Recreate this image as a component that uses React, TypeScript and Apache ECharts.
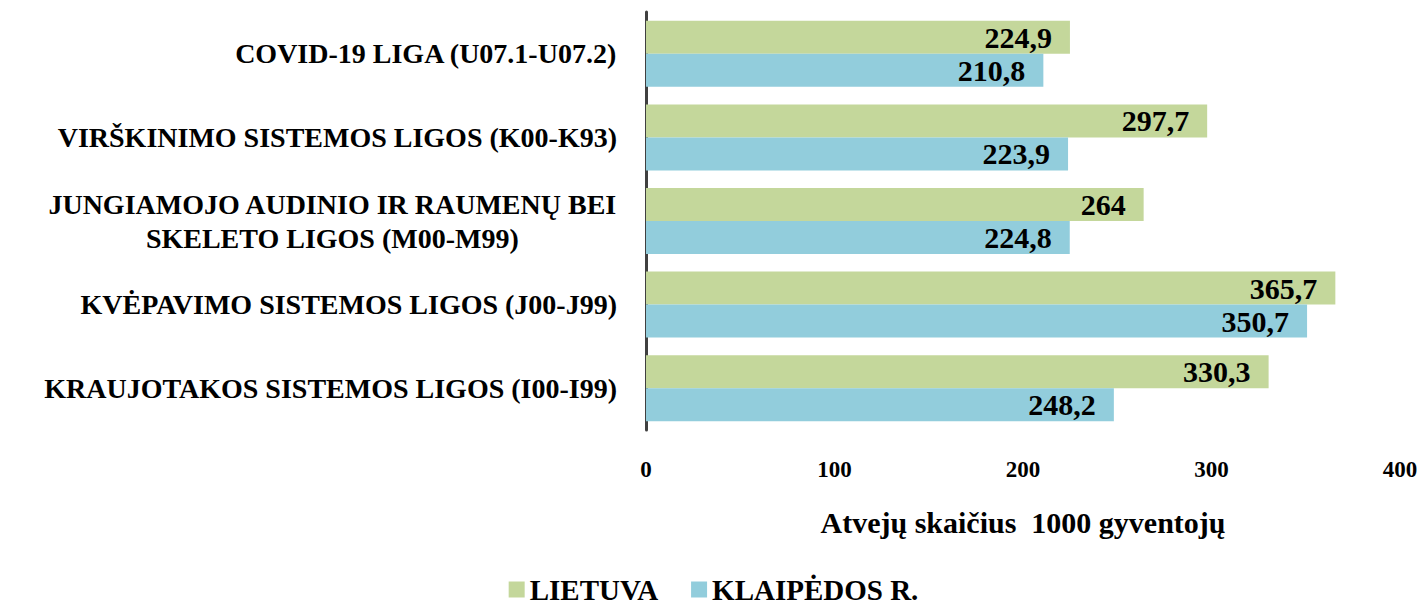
import React, { useEffect, useRef } from "react";
import * as echarts from "echarts";

const categories = [
  "COVID-19 LIGA (U07.1-U07.2)",
  "VIRŠKINIMO SISTEMOS LIGOS (K00-K93)",
  "JUNGIAMOJO AUDINIO IR RAUMENŲ BEI\nSKELETO LIGOS (M00-M99)",
  "KVĖPAVIMO SISTEMOS LIGOS (J00-J99)",
  "KRAUJOTAKOS SISTEMOS LIGOS (I00-I99)",
];
const lietuva = [224.9, 297.7, 264, 365.7, 330.3];
const klaipeda = [210.8, 223.9, 224.8, 350.7, 248.2];
const seriesNames = ["LIETUVA", "KLAIPĖDOS R."];
const axisName = "Atvejų skaičius  1000 gyventojų";

const FONT = "'Liberation Serif', 'Times New Roman', serif";

export default function App() {
  const ref = useRef<HTMLDivElement>(null);
  useEffect(() => {
    if (!ref.current) return;
    const chart = echarts.init(ref.current, null, { renderer: "svg" });
    const labelOpt = {
      show: true,
      position: "insideRight",
      distance: 18,
      color: "#000",
      fontFamily: FONT,
      fontWeight: "bold",
      fontSize: 30,
      formatter: (p: any) => String(p.value).replace(".", ","),
    };
    chart.setOption({
      animation: false,
      backgroundColor: "#fff",
      textStyle: { fontFamily: FONT },
      grid: { left: 646, right: 27, top: 12, height: 418, containLabel: false },
      legend: {
        data: seriesNames,
        left: "center",
        top: 575,
        padding: 0,
        icon: "rect",
        itemWidth: 16,
        itemHeight: 16,
        itemGap: 33,
        textStyle: { fontFamily: FONT, fontWeight: "bold", fontSize: 29, lineHeight: 29, color: "#000" },
      },
      xAxis: {
        type: "value",
        min: 0,
        max: 400,
        interval: 100,
        axisLine: { show: false },
        axisTick: { show: false },
        splitLine: { show: false },
        axisLabel: { margin: 28, color: "#000", fontFamily: FONT, fontWeight: "bold", fontSize: 23 },
        name: axisName,
        nameLocation: "middle",
        nameGap: 77,
        nameTextStyle: { color: "#000", fontFamily: FONT, fontWeight: "bold", fontSize: 30 },
      },
      yAxis: {
        type: "category",
        data: categories,
        inverse: true,
        axisTick: { show: false },
        axisLine: { show: true, lineStyle: { color: "#404040", width: 3 } },
        axisLabel: {
          margin: 29,
          color: "#000",
          fontFamily: FONT,
          fontWeight: "bold",
          fontSize: 28,
          lineHeight: 34,
          formatter: (v: string) =>
            v
              .split("\n")
              .map((l) => "{c|" + l + "}")
              .join("\n"),
          rich: {
            c: { align: "center", fontFamily: FONT, fontWeight: "bold", fontSize: 28, color: "#000", lineHeight: 34 },
          },
        },
      },
      series: [
        {
          name: seriesNames[0],
          type: "bar",
          data: lietuva,
          barWidth: 33,
          barGap: "0%",
          itemStyle: { color: "#C4D79B" },
          label: labelOpt,
        },
        {
          name: seriesNames[1],
          type: "bar",
          data: klaipeda,
          barWidth: 33,
          barGap: "0%",
          itemStyle: { color: "#92CDDC" },
          label: labelOpt,
        },
      ],
    });
    return () => chart.dispose();
  }, []);
  return (
    <div
      ref={ref}
      style={{ position: "absolute", left: 0, top: 0, width: 1427, height: 604 }}
    />
  );
}
